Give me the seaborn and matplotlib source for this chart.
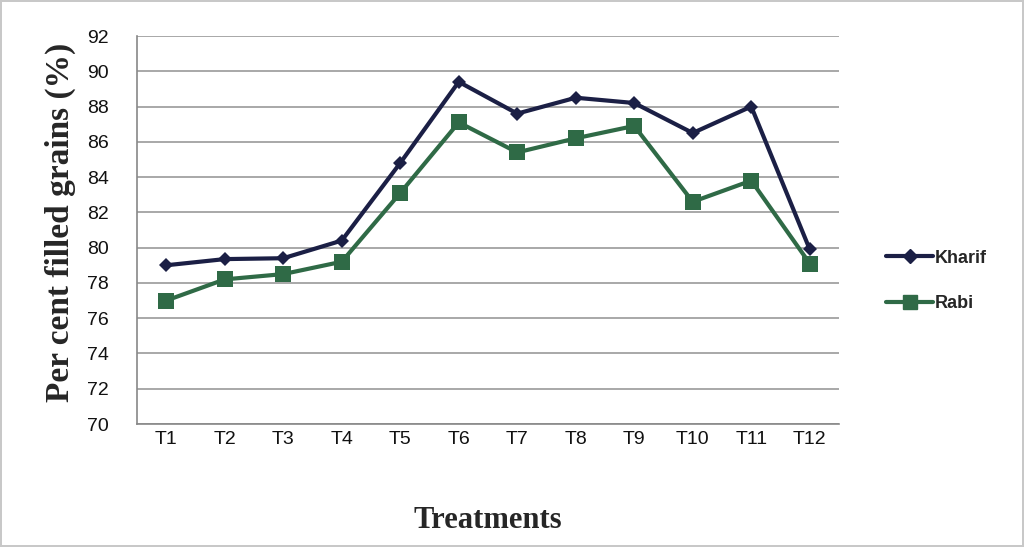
import matplotlib
matplotlib.use("Agg")
import matplotlib.pyplot as plt
import seaborn as sns
import pandas as pd
import numpy as np
from matplotlib.ticker import FixedLocator
from matplotlib.lines import Line2D

treatments = ["T1", "T2", "T3", "T4", "T5", "T6", "T7", "T8", "T9", "T10", "T11", "T12"]
kharif = [79.0, 79.35, 79.4, 80.4, 84.8, 89.4, 87.6, 88.5, 88.2, 86.5, 88.0, 79.9]
rabi = [77.0, 78.2, 78.5, 79.2, 83.1, 87.1, 85.4, 86.2, 86.9, 82.6, 83.8, 79.1]
y_ticks = [70, 72, 74, 76, 78, 80, 82, 84, 86, 88, 90, 92]

sns.set_style("white")
plt.rcParams["font.family"] = ["Liberation Sans", "DejaVu Sans"]

df = pd.DataFrame({
    "Treatment": treatments * 2,
    "Value": kharif + rabi,
    "Season": ["Kharif"] * len(kharif) + ["Rabi"] * len(rabi),
})
df["x"] = list(range(len(treatments))) * 2

fig = plt.figure(figsize=(10.24, 5.47), dpi=100)
fig.patch.set_edgecolor("#c8c8c8")
fig.patch.set_linewidth(1.5)
ax = fig.add_axes([137 / 1024, 1 - 424 / 547, (839 - 137) / 1024, (424 - 36) / 547])

palette = {"Kharif": "#1b1f45", "Rabi": "#2f6a46"}
sns.lineplot(data=df, x="x", y="Value", hue="Season", style="Season",
             markers={"Kharif": "D", "Rabi": "s"}, dashes=False,
             palette=palette, linewidth=3, markersize=9, markeredgewidth=0,
             ax=ax, legend=False)
for line, ms in zip(ax.get_lines(), [7, 12]):
    line.set_markersize(ms)

ax.set_xlim(-0.5, 11.5)
ax.set_ylim(70, 92)
ax.set_yticks(y_ticks)
ax.set_xticks(range(len(treatments)))
ax.set_xticklabels(treatments)
ax.xaxis.set_minor_locator(FixedLocator(np.arange(-0.5, 12, 1)))
ax.tick_params(axis="x", which="major", length=0, labelsize=14, pad=5, colors="#111111")
ax.tick_params(axis="x", which="minor", length=5, color="#888888", direction="out")
ax.tick_params(axis="y", length=8, color="#888888", labelsize=14, colors="#111111", pad=12)
ax.grid(axis="y", color="#9a9a9a", linewidth=1.2)
ax.set_axisbelow(True)
for s in ["top", "right"]:
    ax.spines[s].set_visible(False)
for s in ["left", "bottom"]:
    ax.spines[s].set_color("#888888")
    ax.spines[s].set_linewidth(1.2)

ax.set_xlabel("Treatments", fontsize=22, fontweight="bold", family="Liberation Serif")
ax.set_ylabel("Per cent filled grains (%)", fontsize=24, fontweight="bold", family="Liberation Serif")
ax.xaxis.set_label_coords(0.5, (424 - 520) / 388, transform=ax.transAxes)
ax.xaxis.label.set_va("center")
ax.yaxis.set_label_coords((60 - 137) / 702, (424 - 222) / 388, transform=ax.transAxes)
ax.yaxis.label.set_va("center")

handles = [Line2D([], [], color=palette["Kharif"], marker="D", markersize=7, linewidth=3),
           Line2D([], [], color=palette["Rabi"], marker="s", markersize=10, linewidth=3)]
fig.legend(handles, ["Kharif", "Rabi"], loc="center left", bbox_to_anchor=(870 / 1024, 1 - 281 / 547),
           frameon=False, handlelength=2.6, handletextpad=0.1, labelspacing=1.6,
           prop={"family": "Liberation Sans", "weight": "bold", "size": 13})

fig.savefig("out.png", dpi=100, edgecolor=fig.get_edgecolor())
